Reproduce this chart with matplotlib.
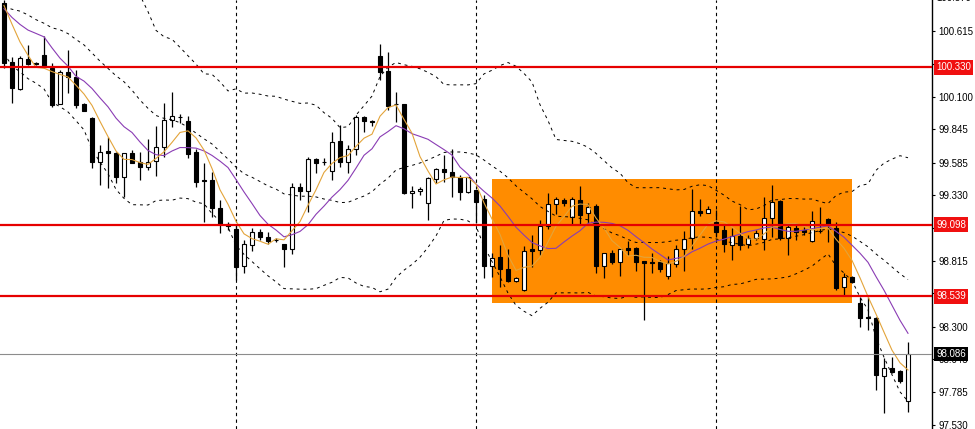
import numpy as np
import pandas as pd
import matplotlib
matplotlib.use("Agg")
import matplotlib.pyplot as plt
import matplotlib.transforms as mtransforms
from matplotlib.patches import Rectangle

# ---------------------------------------------------------------
# candles (price)
# ---------------------------------------------------------------
opens = [100.835, 100.373, 100.161, 100.396, 100.365, 100.427, 100.326, 100.044, 100.294, 100.255,
         100.044, 99.934, 99.590, 99.676, 99.660, 99.472, 99.660, 99.590, 99.550, 99.597,
         99.707, 99.918, 99.942, 99.911, 99.668, 99.449, 99.449, 99.229, 99.104, 99.065,
         98.775, 98.940, 99.041, 99.002, 98.979, 98.948, 98.908, 99.394, 99.362, 99.613,
         99.590, 99.519, 99.754, 99.590, 99.691, 99.942, 99.911, 100.420, 100.302, 100.044,
         100.044, 99.347, 99.362, 99.268, 99.456, 99.535, 99.511, 99.472, 99.355, 99.370,
         99.300, 98.775, 98.846, 98.752, 98.658, 98.587, 98.908, 98.900, 99.088, 99.261,
         99.292, 99.159, 99.292, 99.190, 99.245, 98.775, 98.877, 98.806, 98.916, 98.916,
         98.814, 98.806, 98.806, 98.697, 98.791, 98.908, 98.994, 99.206, 99.190, 99.120,
         99.057, 98.940, 99.010, 98.948, 98.994, 98.987, 99.151, 99.284, 98.994, 99.073,
         99.057, 98.971, 99.049, 99.143, 99.073, 98.611, 98.689, 98.486, 98.376, 98.368,
         97.914, 97.977, 97.953, 97.718]
highs = [100.858, 100.412, 100.420, 100.506, 100.373, 100.576, 100.365, 100.310, 100.467, 100.310,
         100.052, 99.942, 99.723, 99.785, 99.668, 99.660, 99.684, 99.668, 99.770, 99.871,
         100.052, 100.138, 99.965, 99.950, 99.691, 99.582, 99.511, 99.292, 99.120, 99.104,
         98.979, 99.073, 99.065, 99.041, 98.994, 98.948, 99.425, 99.425, 99.629, 99.621,
         99.621, 99.824, 99.879, 99.723, 99.958, 99.950, 99.918, 100.513, 100.451, 100.138,
         100.044, 99.402, 99.394, 99.472, 99.543, 99.644, 99.691, 99.488, 99.472, 99.370,
         99.331, 98.877, 98.940, 98.908, 98.689, 98.932, 99.018, 99.135, 99.347, 99.315,
         99.308, 99.315, 99.402, 99.268, 99.261, 98.877, 98.900, 98.908, 98.971, 98.924,
         98.814, 98.877, 98.822, 98.853, 98.940, 99.049, 99.378, 99.300, 99.245, 99.214,
         99.096, 99.073, 99.245, 99.018, 99.057, 99.315, 99.409, 99.292, 99.096, 99.112,
         99.081, 99.206, 99.237, 99.151, 99.120, 98.720, 98.697, 98.532, 98.532, 98.376,
         98.055, 98.063, 97.961, 98.180]
lows = [100.326, 100.052, 100.153, 100.349, 100.349, 100.326, 100.020, 100.044, 100.130, 100.012,
        99.989, 99.543, 99.409, 99.386, 99.425, 99.315, 99.582, 99.449, 99.527, 99.480,
        99.629, 99.864, 99.895, 99.621, 99.394, 99.120, 99.159, 99.034, 99.057, 98.666,
        98.720, 98.893, 98.979, 98.948, 98.963, 98.767, 98.869, 99.292, 99.198, 99.503,
        99.566, 99.449, 99.550, 99.503, 99.644, 99.824, 99.871, 100.232, 99.997, 99.903,
        99.339, 99.229, 99.331, 99.135, 99.425, 99.433, 99.315, 99.292, 99.347, 99.112,
        98.681, 98.689, 98.611, 98.650, 98.650, 98.580, 98.767, 98.861, 99.065, 99.182,
        99.245, 99.104, 99.104, 99.112, 98.720, 98.681, 98.791, 98.697, 98.861, 98.736,
        98.352, 98.720, 98.728, 98.673, 98.767, 98.736, 98.908, 99.167, 99.190, 99.002,
        98.885, 98.822, 98.900, 98.916, 98.979, 98.900, 99.002, 98.979, 98.861, 98.979,
        99.018, 98.963, 99.034, 98.963, 98.587, 98.540, 98.642, 98.298, 98.274, 97.804,
        97.624, 97.937, 97.859, 97.632]
closes = [100.365, 100.169, 100.404, 100.357, 100.357, 100.333, 100.036, 100.294, 100.255, 100.036,
          99.989, 99.590, 99.668, 99.660, 99.472, 99.660, 99.582, 99.550, 99.590, 99.707,
          99.918, 99.950, 99.940, 99.652, 99.433, 99.441, 99.229, 99.104, 99.088, 98.767,
          98.948, 99.041, 99.002, 98.971, 98.979, 98.908, 99.394, 99.362, 99.613, 99.582,
          99.590, 99.746, 99.590, 99.691, 99.942, 99.911, 99.903, 100.294, 100.028, 100.044,
          99.347, 99.362, 99.378, 99.464, 99.535, 99.511, 99.472, 99.355, 99.472, 99.276,
          98.775, 98.838, 98.752, 98.658, 98.681, 98.893, 98.893, 99.088, 99.261, 99.300,
          99.268, 99.300, 99.174, 99.237, 98.775, 98.877, 98.806, 98.908, 98.900, 98.806,
          98.799, 98.799, 98.752, 98.799, 98.908, 98.987, 99.206, 99.190, 99.221, 99.041,
          98.948, 99.010, 98.940, 98.994, 99.034, 99.151, 99.276, 98.994, 99.081, 99.041,
          99.041, 99.128, 99.049, 99.104, 98.603, 98.689, 98.650, 98.368, 98.368, 97.922,
          97.977, 97.945, 97.875, 98.086]

# closes just before the visible window (estimated from where the averages start)
prior_close = [100.55, 100.70, 100.95, 101.10, 100.90, 100.75, 100.60, 100.85, 100.95, 100.85,
               100.85, 100.95, 100.80, 100.62, 100.60, 100.90, 101.10, 100.88, 100.83]

levels = [100.330, 99.098, 98.539]
last_price = 98.086
tick_values = [97.530, 97.785, 98.045, 98.300, 98.560, 98.815, 99.075, 99.330,
               99.585, 99.845, 100.100, 100.355, 100.615]
top_tick = 100.870
separators = [29, 59, 89]
zone_start, zone_end = 61, 106
zone_top, zone_bottom = 99.456, 98.486

# ---------------------------------------------------------------
# indicators: SMA 5, SMA 10, Bollinger(20, 2)
# ---------------------------------------------------------------
n = len(closes)
k = len(prior_close)
s = pd.Series(prior_close + closes)
ma_fast = s.rolling(5).mean().values[k:]
ma_slow = s.rolling(10).mean().values[k:]
bb_mid = s.rolling(20).mean().values[k:]
bb_sd = s.rolling(20).std(ddof=0).values[k:]
bb_up = bb_mid + 2 * bb_sd
bb_lo = bb_mid - 2 * bb_sd
x = np.arange(n)

# ---------------------------------------------------------------
# figure
# ---------------------------------------------------------------
plt.rcParams['font.family'] = ['Liberation Sans', 'DejaVu Sans']
fig = plt.figure(figsize=(9.75, 4.29), dpi=100)
ax = fig.add_axes([0, 0, 932 / 975, 1])
ax.set_xlim(-0.5, 116)
ax.set_ylim(97.499, 100.858)

# zone
ax.add_patch(Rectangle((zone_start, zone_bottom), zone_end - zone_start, zone_top - zone_bottom,
                       facecolor='#FF8C00', edgecolor='none', zorder=0.5))

for sep in separators:
    ax.axvline(sep, color='black', lw=0.8, ls=(0, (3, 3)), zorder=1)

# candles
ax.vlines(x, lows, highs, color='black', lw=0.9, zorder=2)
for i in range(n):
    o, c = opens[i], closes[i]
    fc = 'black' if c < o else 'white'
    ax.add_patch(Rectangle((i - 0.26, min(o, c)), 0.52, abs(c - o),
                           facecolor=fc, edgecolor='black', lw=0.8, zorder=3))

# indicators
ax.plot(x, bb_up, color='black', lw=0.7, ls=(0, (3, 4)), zorder=4)
ax.plot(x, bb_mid, color='black', lw=0.7, ls=(0, (3, 4)), zorder=4)
ax.plot(x, bb_lo, color='black', lw=0.7, ls=(0, (3, 4)), zorder=4)
ax.plot(x, ma_slow, color='#8A3CB4', lw=0.8, zorder=4)
ax.plot(x, ma_fast, color='#E3A43A', lw=0.8, zorder=4)

# levels
ax.axhline(last_price, color='#8C8C8C', lw=0.8, zorder=4)
for lv in levels:
    ax.axhline(lv, color='#E60000', lw=1.6, zorder=5)

# axis
for side in ['left', 'top', 'bottom']:
    ax.spines[side].set_visible(False)
ax.spines['right'].set_linewidth(1.0)
ax.set_xticks([])
ax.yaxis.tick_right()
ax.set_yticks(tick_values)
ax.set_yticklabels([f"{v:.3f}" for v in tick_values])
ax.tick_params(axis='y', direction='out', length=2.5, width=0.8, pad=2, labelsize=7)

trans = mtransforms.blended_transform_factory(ax.transAxes, ax.transData)
ax.text(1.0045, top_tick, f"{top_tick:.3f}", transform=trans, fontsize=7,
        va='center', ha='left', clip_on=False)
for lv in levels:
    ax.text(1.0045, lv, f"{lv:.3f}", transform=trans, fontsize=7, color='white',
            va='center', ha='left', clip_on=False, zorder=6,
            bbox=dict(boxstyle='square,pad=0.25', facecolor='#F01010', edgecolor='none'))
ax.text(1.0045, last_price, f"{last_price:.3f}", transform=trans, fontsize=7, color='white',
        va='center', ha='left', clip_on=False, zorder=6,
        bbox=dict(boxstyle='square,pad=0.25', facecolor='black', edgecolor='none'))

fig.savefig("out.png", dpi=100, facecolor='white')
